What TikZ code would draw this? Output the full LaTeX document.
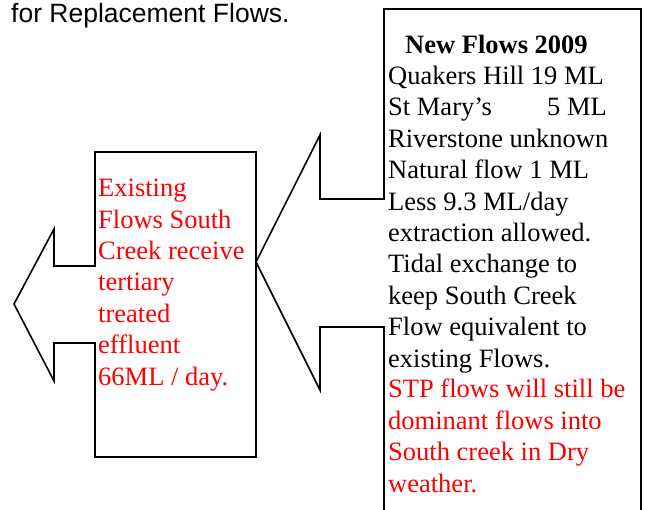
\documentclass[tikz,border=0pt]{standalone}
\usepackage{fontspec}
\setmainfont{Liberation Serif}
\newfontfamily\arialfont{Liberation Sans}

\begin{document}
\begin{tikzpicture}[x=1pt, y=-1pt,
    callout/.style={draw=black, line width=1.6pt, line join=miter, fill=white},
    bodytext/.style={inner sep=0pt, anchor=base west, align=left, font=\fontsize{26.5}{31.4}\selectfont},
    redtext/.style={bodytext, text=red},
    headtext/.style={inner sep=0pt, anchor=base west, font=\arialfont\fontsize{26.5}{31}\selectfont}
]
\useasboundingbox (0,0) rectangle (645,509);

% Heading line
\node[headtext] (intro) at (11,22) {for Replacement Flows.};

% Existing flows callout, pointing left
\draw[callout] (95,152) -- (256,152) -- (256,457) -- (95,457) -- (95,343) -- (54,343)
    -- (54,381) -- (14,304) -- (54,229) -- (54,266) -- (95,266) -- cycle;

% New flows callout, pointing at the existing flows
\draw[callout] (384,9) -- (641,9) -- (641,530) -- (384,530) -- (384,327) -- (320,327)
    -- (320,390) -- (256,262) -- (320,135) -- (320,199) -- (384,199) -- cycle;

% Existing flows (placed by the baseline of the last line)
\node[redtext] (existing) at (98,385) {Existing\\Flows South\\Creek receive\\tertiary\\treated\\effluent\\66ML / day.};

% New flows 2009
\node[bodytext] (newflows) at (388,367) {\hspace*{17pt}\textbf{New Flows 2009}\\Quakers Hill 19 ML\\\makebox[159pt][l]{St Mary’s}5 ML\\Riverstone unknown\\Natural flow 1 ML\\Less 9.3 ML/day\\extraction allowed.\\Tidal exchange to\\keep South Creek\\Flow equivalent to\\existing Flows.};
\node[redtext] (stpnote) at (388,492) {STP flows will still be\\dominant flows into\\South creek in Dry\\weather.};

\end{tikzpicture}
\end{document}
